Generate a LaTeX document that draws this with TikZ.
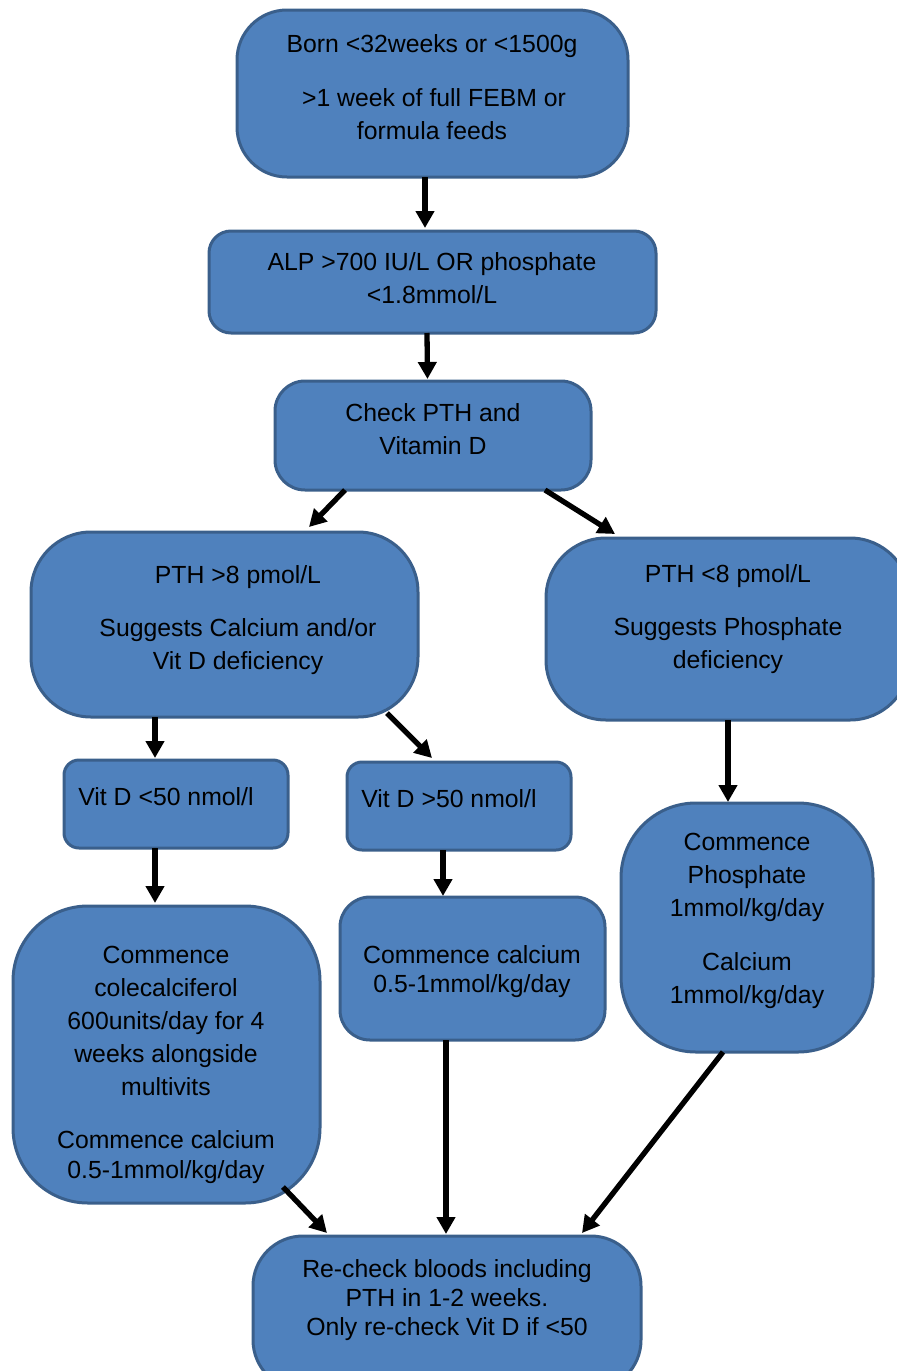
\documentclass[tikz,border=0pt]{standalone}
\usepackage{fontspec}
\setmainfont{Liberation Sans}
\usetikzlibrary{arrows.meta}
\definecolor{fillc}{HTML}{4F81BD}
\definecolor{bordc}{HTML}{3A5F8B}
\tikzset{
  box/.style={draw=bordc, fill=fillc, line width=3pt, inner sep=0pt, outer sep=0pt},
  txt/.style={anchor=base, inner sep=0pt, font=\fontsize{24.8}{30}\selectfont, text=black},
  arr/.style={line width=5.3pt, -{Triangle[width=18pt,length=17pt]}, black},
}
\begin{document}
\begin{tikzpicture}[x=1pt,y=-1pt]
\useasboundingbox (0,0) rectangle (897,1371);
% boxes
\node[box, minimum width=391pt, minimum height=167pt, rounded corners=50pt] (b1) at (432.5,93.5) {};
\node[box, minimum width=447pt, minimum height=102pt, rounded corners=22pt] (b2) at (432.5,282) {};
\node[box, minimum width=316pt, minimum height=109pt, rounded corners=30pt] (b3) at (433,435.5) {};
\node[box, minimum width=387pt, minimum height=185pt, rounded corners=60pt] (b4) at (224.5,624.5) {};
\node[box, minimum width=364pt, minimum height=182pt, rounded corners=60pt] (b5) at (728,629) {};
\node[box, minimum width=224pt, minimum height=88pt, rounded corners=15pt] (b6) at (176,804) {};
\node[box, minimum width=224pt, minimum height=88pt, rounded corners=15pt] (b7) at (459,806) {};
\node[box, minimum width=307pt, minimum height=297pt, rounded corners=75pt] (b8) at (166.5,1054.5) {};
\node[box, minimum width=265pt, minimum height=143pt, rounded corners=30pt] (b9) at (472.5,968.5) {};
\node[box, minimum width=252pt, minimum height=249pt, rounded corners=75pt] (b10) at (747,927.5) {};
\node[box, minimum width=388pt, minimum height=154pt, rounded corners=50pt] (b11) at (447,1313) {};
% texts
\node[txt] (t1a) at (432,52.5) {Born <32weeks or <1500g};
\node[txt] (t1b) at (434,106.5) {>1 week of full FEBM or};
\node[txt] (t1c) at (432,139.5) {formula feeds};
\node[txt] (t2a) at (432,270.5) {ALP >700 IU/L OR phosphate};
\node[txt] (t2b) at (432,303.5) {<1.8mmol/L};
\node[txt] (t3a) at (433,421.5) {Check PTH and};
\node[txt] (t3b) at (433,454.5) {Vitamin D};
\node[txt] (t4a) at (238,583.5) {PTH >8 pmol/L};
\node[txt] (t4b) at (238,636.5) {Suggests Calcium and/or};
\node[txt] (t4c) at (238,669.5) {Vit D deficiency};
\node[txt] (t5a) at (728,582.5) {PTH <8 pmol/L};
\node[txt] (t5b) at (728,635.5) {Suggests Phosphate};
\node[txt] (t5c) at (728,668.5) {deficiency};
\node[txt] (t6) at (166,805.5) {Vit D <50 nmol/l};
\node[txt] (t7) at (449,807.5) {Vit D >50 nmol/l};
\node[txt] (t8a) at (166,963.5) {Commence};
\node[txt] (t8b) at (166,996.5) {colecalciferol};
\node[txt] (t8c) at (166,1029.5) {600units/day for 4};
\node[txt] (t8d) at (166,1062.5) {weeks alongside};
\node[txt] (t8e) at (166,1095.5) {multivits};
\node[txt] (t8f) at (166,1148.5) {Commence calcium};
\node[txt] (t8g) at (166,1178.5) {0.5-1mmol/kg/day};
\node[txt] (t9a) at (472,963.5) {Commence calcium};
\node[txt] (t9b) at (472,992.5) {0.5-1mmol/kg/day};
\node[txt] (t10a) at (747,850.5) {Commence};
\node[txt] (t10b) at (747,883.5) {Phosphate};
\node[txt] (t10c) at (747,916.5) {1mmol/kg/day};
\node[txt] (t10d) at (747,970.5) {Calcium};
\node[txt] (t10e) at (747,1003.5) {1mmol/kg/day};
\node[txt] (t11a) at (447,1277.5) {Re-check bloods including};
\node[txt] (t11b) at (447,1306.5) {PTH in 1-2 weeks.};
\node[txt] (t11c) at (447,1335.5) {Only re-check Vit D if <50};
% arrows
\draw[arr] ([xshift=-7.5pt]b1.south) -- ([xshift=-7.5pt,yshift=3pt]b2.north);
\draw[arr] ([xshift=-5.5pt]b2.south) -- ([xshift=-5.5pt,yshift=2pt]b3.north);
\draw[arr] ([xshift=-88pt]b3.south) -- ([xshift=84.5pt,yshift=5pt]b4.north);
\draw[arr] ([xshift=112pt]b3.south) -- ([xshift=-113pt,yshift=4pt]b5.north);
\draw[arr] ([xshift=-69.5pt]b4.south) -- ([xshift=-21pt,yshift=2pt]b6.north);
\draw[arr] ([xshift=162.5pt,yshift=4pt]b4.south) -- ([xshift=-27pt,yshift=4pt]b7.north);
\draw[arr] (b5.south) -- ([xshift=-19pt,yshift=1pt]b10.north);
\draw[arr] ([xshift=-21pt]b6.south) -- ([xshift=-11.5pt,yshift=3pt]b8.north);
\draw[arr] ([xshift=-16pt]b7.south) -- ([xshift=-29.5pt,yshift=1pt]b9.north);
\draw[arr] ([xshift=116.5pt,yshift=16pt]b8.south) -- ([xshift=-120pt,yshift=3pt]b11.north);
\draw[arr] ([xshift=-26.5pt]b9.south) -- ([xshift=-1pt,yshift=2pt]b11.north);
\draw[arr] ([xshift=-24pt]b10.south) -- ([xshift=135pt,yshift=3pt]b11.north);
\end{tikzpicture}
\end{document}
